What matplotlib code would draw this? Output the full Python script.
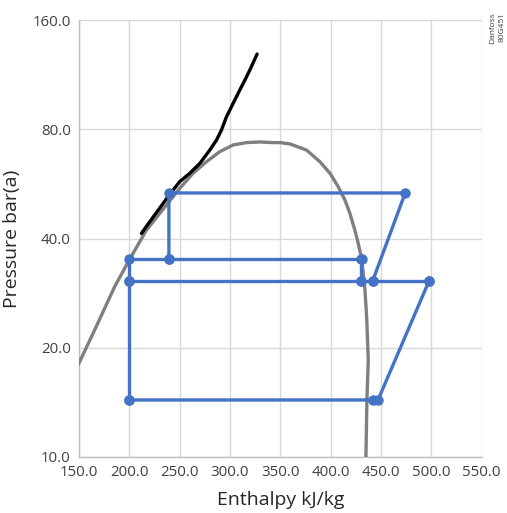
import matplotlib
matplotlib.use("Agg")
import matplotlib.pyplot as plt
from matplotlib.ticker import FixedLocator, FixedFormatter, NullLocator

plt.rcParams['font.family'] = ['Open Sans', 'DejaVu Sans']

# ---- data ----
x_ticks = [150, 200, 250, 300, 350, 400, 450, 500, 550]
x_tick_labels = ["150.0", "200.0", "250.0", "300.0", "350.0", "400.0", "450.0", "500.0", "550.0"]
y_ticks = [10, 20, 40, 80, 160]
y_tick_labels = ["10.0", "20.0", "40.0", "80.0", "160.0"]

# saturation dome (gray)
dome_h = [140, 149, 165.6, 185.5, 200.4, 217, 230.2, 236.9, 250.1, 263.3, 276.6, 289.9, 303.1,
          316.4, 329.6, 342.8, 349.5, 359.4, 376.0, 389.3, 399.3, 407.4, 414.1, 419.1, 424.0,
          427.3, 430.7, 432.3, 434.0, 435.7, 436.7, 437.3, 436.0, 435.0, 434.8]
dome_p = [15.8, 17.9, 22.4, 29.5, 35.1, 42.2, 46.9, 49.5, 55.0, 60.5, 65.1, 69.4, 72.4,
          73.5, 73.8, 73.5, 73.5, 72.9, 70.1, 65.1, 60.5, 55.6, 51.1, 46.9, 42.2,
          38.8, 35.3, 32.1, 28.9, 24.4, 20.6, 18.5, 14.36, 10.0, 9.5]

# transcritical line (black)
trans_h = [212.0, 220.3, 230.2, 238.5, 250.1, 260.0, 270.2, 279.9, 286.6, 291.5, 296.5, 303.1,
           309.7, 314.8, 319.7, 326.9]
trans_p = [41.3, 44.5, 48.5, 52.2, 57.4, 60.5, 64.5, 70.1, 74.7, 79.6, 86.6, 94.3,
           102.6, 109.3, 116.5, 128.9]

# cycle lines (blue)
hp_h = [441.6, 474, 239.3, 239.3]
hp_p = [30.5, 53.4, 53.4, 35.1]
rec_h = [431, 239.3, 200, 200, 200]
rec_p = [35.1, 35.1, 35.1, 30.5, 14.36]
fg_h = [430.5, 430.5]
fg_p = [35.1, 30.5]
mt_h = [200, 430.5, 441.6, 497.6]
mt_p = [30.5, 30.5, 30.5, 30.5]
lt_h = [200, 442, 447, 497.6]
lt_p = [14.36, 14.36, 14.36, 30.5]

blue = "#4472C4"

fig = plt.figure(figsize=(5.07, 5.13), dpi=100)
ax = fig.add_axes([79 / 507, 1 - 457 / 513, (481.7 - 79) / 507, (457 - 20) / 513])

ax.plot(dome_h, dome_p, color="#7F7F7F", lw=2.4, solid_capstyle="round",
        solid_joinstyle="round", zorder=3)
ax.plot(trans_h, trans_p, color="black", lw=2.4, solid_capstyle="round",
        solid_joinstyle="round", zorder=4)
for hh, pp in [(hp_h, hp_p), (rec_h, rec_p), (fg_h, fg_p), (mt_h, mt_p), (lt_h, lt_p)]:
    ax.plot(hh, pp, color=blue, lw=2.4, marker="o", markersize=6.5, zorder=5)

ax.set_yscale("log", base=2)
ax.set_xlim(150, 550)
ax.set_ylim(10, 160)
ax.xaxis.set_major_locator(FixedLocator(x_ticks))
ax.xaxis.set_major_formatter(FixedFormatter(x_tick_labels))
ax.yaxis.set_major_locator(FixedLocator(y_ticks))
ax.yaxis.set_major_formatter(FixedFormatter(y_tick_labels))
ax.yaxis.set_minor_locator(NullLocator())
ax.xaxis.set_minor_locator(NullLocator())

ax.grid(True, color="#D9D9D9", lw=1.0, zorder=0)
ax.set_axisbelow(True)
for s in ["top", "right"]:
    ax.spines[s].set_visible(False)
for s in ["left", "bottom"]:
    ax.spines[s].set_color("#BFBFBF")
    ax.spines[s].set_linewidth(1.0)
ax.tick_params(length=0, labelsize=10.8, labelcolor="#404040", pad=6)

ax.set_xlabel("Enthalpy kJ/kg", fontsize=14, color="#262626", labelpad=8)
ax.set_ylabel("Pressure bar(a)", fontsize=14, color="#262626", labelpad=8)

fig.text(492.7 / 507, 1 - 12 / 513, "Danfoss", rotation=90, fontsize=6, color="#404040",
         ha="center", va="top")
fig.text(502.3 / 507, 1 - 12 / 513, "80G451", rotation=90, fontsize=6, color="#404040",
         ha="center", va="top")

fig.savefig("out.png", dpi=100)
